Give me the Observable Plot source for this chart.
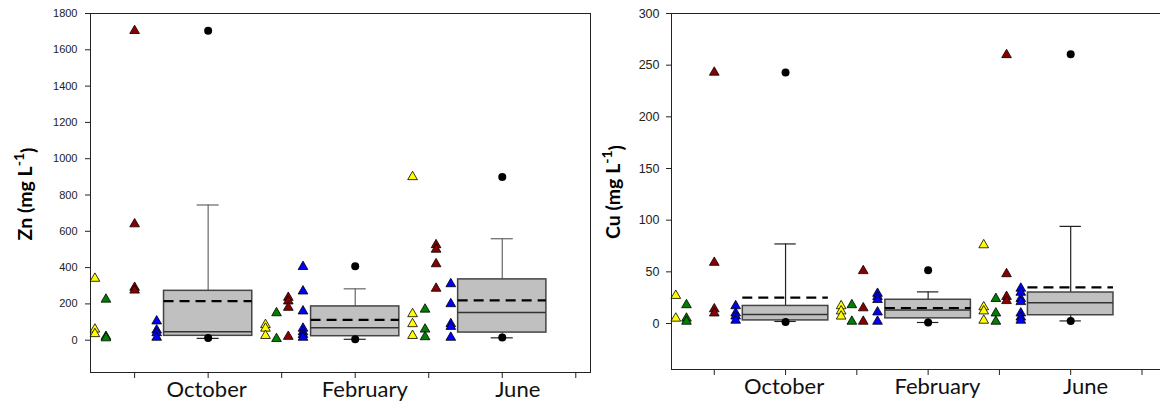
<!DOCTYPE html>
<html><head><meta charset="utf-8">
<script src="https://cdn.jsdelivr.net/npm/d3@7"></script>
<script src="https://cdn.jsdelivr.net/npm/@observablehq/plot@0.6"></script>
<style>
html,body{margin:0;padding:0;background:#fff;overflow:hidden;width:1160px;height:409px}
#wrap{position:relative;width:1160px;height:409px;overflow:hidden}
#left{position:absolute;left:0;top:0;width:600px;height:409px}
#right{position:absolute;left:590px;top:0;width:600px;height:409px}
#left svg,#right svg{overflow:visible;max-width:none !important}
</style></head><body><div id="wrap"><div id="left"></div><div id="right"></div></div>
<script>
// ---------- data ----------
const months = ["October", "February", "June"];
const groupFills = ["#ffff00", "#008000", "#8b0000", "#0000ff"]; // yellow, green, red, blue groups

// Zn (mg L-1) individual samples, per month [October, February, June]
const znYellow = [[340, 60, 35], [85, 65, 25], [900, 145, 90, 25]];
const znGreen  = [[225, 20, 12], [150, 8], [170, 60, 18]];
const znRed    = [[1705, 640, 290, 275], [235, 215, 180, 20], [525, 500, 420, 285]];
const znBlue   = [[105, 55, 40, 15], [405, 270, 160, 65, 45, 30, 15], [310, 200, 90, 75, 15]];
// Zn box statistics per month
const znQ1      = [24, 22, 42];
const znMedian  = [46, 68, 152];
const znQ3      = [272, 186, 335];
const znMean    = [215, 112, 219];
const znWhiskLo = [10, 5, 13];
const znWhiskHi = [745, 283, 559];
const znOutLo   = [12, 5, 15];
const znOutHi   = [1705, 408, 899];

// Cu (mg L-1) individual samples
const cuYellow = [[27, 5], [17, 12, 7], [76, 16, 12, 3]];
const cuGreen  = [[18, 5, 2], [18, 2], [24, 10, 2]];
const cuRed    = [[243, 59, 14, 10], [51, 15, 2], [260, 48, 26, 22]];
const cuBlue   = [[17, 10, 7, 3], [29, 26, 23, 11, 2], [34, 30, 24, 21, 10, 6, 3]];
// Cu box statistics
const cuQ1      = [3, 5, 8];
const cuMedian  = [8.7, 13, 20];
const cuQ3      = [17, 23, 30];
const cuMean    = [25, 15, 35];
const cuWhiskLo = [2, 1, 2.5];
const cuWhiskHi = [77, 30.6, 94];
const cuOutLo   = [1.5, 1, 2.5];
const cuOutHi   = [243, 51.6, 260.6];

// tick values
const xTicks  = [1, 2, 3, 4, 5, 6, 7];
const znTicks = [0, 200, 400, 600, 800, 1000, 1200, 1400, 1600, 1800];
const cuTicks = [0, 50, 100, 150, 200, 250, 300];

// ---------- layout ----------
const stripBase = [1, 3, 5];
const boxX = [2, 4, 6];
const stripOffset = [[-0.54, -0.39, 0, 0.30], [-0.22, -0.07, 0.09, 0.29], [-0.22, -0.05, 0.10, 0.30]];
const labelX = [1.98, 4.13, 6.21];
const boxHalf = 0.6, capHalf = 0.15;

function panel(o) {
  const groups = [o.yellow, o.green, o.red, o.blue];
  const tri = [];
  months.forEach((m, mi) => groups.forEach((g, gi) => g[mi].forEach(v =>
    tri.push({x: stripBase[mi] + stripOffset[mi][gi], y: v, fill: groupFills[gi]}))));
  const boxes = months.map((m, i) => ({x: boxX[i], q1: o.q1[i], med: o.med[i], q3: o.q3[i], mean: o.mean[i],
    lo: o.wlo[i], hi: o.whi[i], olo: o.olo[i], ohi: o.ohi[i]}));
  const outl = boxes.flatMap(b => [{x: b.x, y: b.olo}, {x: b.x, y: b.ohi}]);
  const svg = Plot.plot({
    width: o.width, height: 409,
    marginLeft: o.ml, marginRight: 10, marginTop: 13, marginBottom: o.mb,
    x: {domain: o.xdom, axis: null},
    y: {domain: o.ydom, axis: null},
    style: {fontFamily: "'Liberation Sans', Arial, sans-serif", fontSize: o.tickFont + "px", background: "transparent", color: "#222", maxWidth: "none"},
    marks: [
      Plot.frame({stroke: "#222", strokeWidth: 1}),
      Plot.ruleX(boxes, {x: "x", y1: "q3", y2: "hi", stroke: o.whisk, strokeWidth: 1.2}),
      Plot.ruleX(boxes, {x: "x", y1: "lo", y2: "q1", stroke: o.whisk, strokeWidth: 1.2}),
      Plot.ruleY(boxes, {y: "hi", x1: d => d.x - capHalf, x2: d => d.x + capHalf, stroke: o.whisk, strokeWidth: 1.2}),
      Plot.ruleY(boxes, {y: "lo", x1: d => d.x - capHalf, x2: d => d.x + capHalf, stroke: "#222", strokeWidth: 1.2}),
      Plot.rect(boxes, {x1: d => d.x - boxHalf, x2: d => d.x + boxHalf, y1: "q1", y2: "q3", fill: "#c0c0c0", stroke: "#444", strokeWidth: 1.5}),
      Plot.ruleY(boxes, {y: "med", x1: d => d.x - boxHalf, x2: d => d.x + boxHalf, stroke: "#333", strokeWidth: 1.5}),
      Plot.ruleY(boxes, {y: "mean", x1: d => d.x - boxHalf, x2: d => d.x + boxHalf, stroke: "#000", strokeWidth: 2.2, strokeDasharray: "10,6"}),
      Plot.dot(outl, {x: "x", y: "y", r: 4, fill: "#000", stroke: "none"}),
      Plot.dot(tri, {x: "x", y: "y", symbol: "triangle", r: 3.6, fill: d => d.fill, stroke: "#000", strokeWidth: 0.8}),
      Plot.axisY({ticks: o.ticks, tickSize: 5, tickPadding: o.tp, label: null, tickFormat: d => String(d), fontSize: o.tickFont}),
      Plot.axisX({ticks: xTicks, tickSize: 6, tickFormat: () => "", label: null}),
      Plot.text(months, {x: (d, i) => labelX[i], text: d => d, frameAnchor: "bottom", dy: 24,
        fontSize: 22, fontFamily: "Lato, 'Open Sans', sans-serif", fill: "#111"})
    ]
  });
  const t = d3.select(svg).append("text")
    .attr("transform", `translate(${o.tx},${o.ty}) rotate(-90)`)
    .attr("text-anchor", "middle")
    .style("font-family", "Lato, 'Open Sans', sans-serif")
    .style("font-weight", "bold").style("font-size", "19.5px").attr("fill", "#000");
  t.append("tspan").text(o.name + " (mg L");
  t.append("tspan").attr("dy", "-0.55em").style("font-size", "14px").text("-1");
  t.append("tspan").attr("dy", "0.55em").text(")");
  return svg;
}

document.getElementById("left").appendChild(panel({
  width: 600, ml: 90, mb: 37, xdom: [0.4, 7.2], ydom: [-178, 1800], ticks: znTicks, tickFont: 11, tp: 8,
  whisk: "#666", name: "Zn", tx: 32, ty: 194,
  yellow: znYellow, green: znGreen, red: znRed, blue: znBlue,
  q1: znQ1, med: znMedian, q3: znQ3, mean: znMean, wlo: znWhiskLo, whi: znWhiskHi, olo: znOutLo, ohi: znOutHi
}));
document.getElementById("right").appendChild(panel({
  width: 590, ml: 81, mb: 40, xdom: [0.4, 7.4], ydom: [-44.5, 300], ticks: cuTicks, tickFont: 12.5, tp: 7,
  whisk: "#222", name: "Cu", tx: 30, ty: 192,
  yellow: cuYellow, green: cuGreen, red: cuRed, blue: cuBlue,
  q1: cuQ1, med: cuMedian, q3: cuQ3, mean: cuMean, wlo: cuWhiskLo, whi: cuWhiskHi, olo: cuOutLo, ohi: cuOutHi
}));
</script></body></html>
